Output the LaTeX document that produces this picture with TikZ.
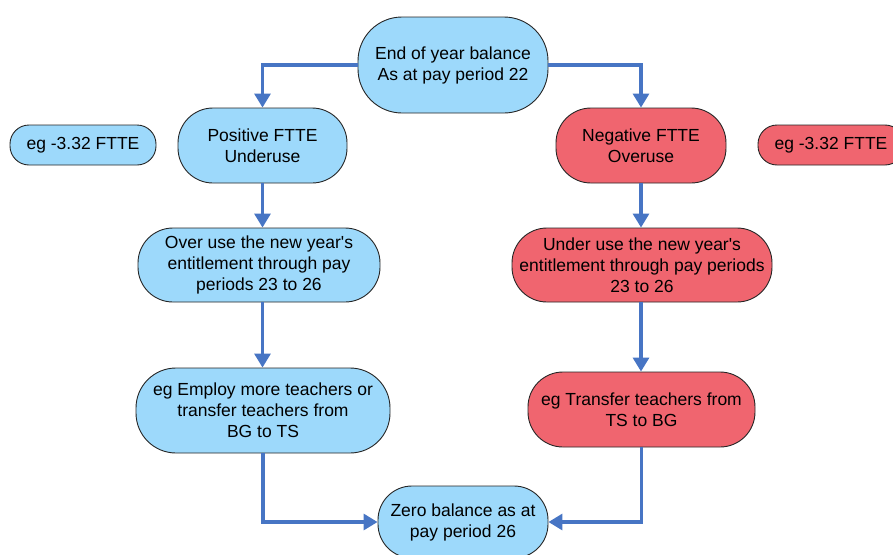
\documentclass[tikz,border=0pt]{standalone}
\usepackage{fontspec}
\setmainfont{Liberation Sans}
\usetikzlibrary{arrows.meta}
\definecolor{lb}{HTML}{9DD9FB}
\definecolor{rd}{HTML}{F0656F}
\definecolor{ln}{HTML}{4775C4}
\begin{document}
\begin{tikzpicture}[x=1pt,y=-1pt,
  box/.style={draw=black!85, line width=0.9pt, align=center,
    font=\fontsize{17.5}{21}\selectfont, inner sep=0pt},
  bluebox/.style={box, fill=lb},
  redbox/.style={box, fill=rd},
  conn/.style={draw=ln, line width=3.2pt, -{Triangle[width=16pt,length=14pt]}}]
\useasboundingbox (0,0) rectangle (893,554);
\clip (0,0) rectangle (893,554);

\node[bluebox, minimum width=190, minimum height=96, rounded corners=44] (top) at (453,65)
  {End of year balance\\As at pay period 22};
\node[bluebox, minimum width=169, minimum height=75, rounded corners=35] (pos) at (262.5,145.5)
  {Positive FTTE\\Underuse};
\node[bluebox, minimum width=146, minimum height=40, rounded corners=19] (egL) at (83,145)
  {eg -3.32 FTTE};
\node[redbox, minimum width=170, minimum height=75, rounded corners=35] (neg) at (641,145.5)
  {Negative FTTE\\Overuse};
\node[redbox, minimum width=146, minimum height=40, rounded corners=19] (egR) at (831,145)
  {eg -3.32 FTTE};
\node[bluebox, minimum width=242, minimum height=74, rounded corners=35] (over) at (259,265)
  {Over use the new year\textquotesingle s\\entitlement through pay\\periods 23 to 26};
\node[redbox, minimum width=260, minimum height=74, rounded corners=35] (under) at (642,265)
  {Under use the new year\textquotesingle s\\entitlement through pay periods\\23 to 26};
\node[bluebox, minimum width=254, minimum height=85, rounded corners=40] (emp) at (263,410.5)
  {eg Employ more teachers or\\transfer teachers from\\BG to TS};
\node[redbox, minimum width=227, minimum height=75, rounded corners=35] (trans) at (641.5,409.5)
  {eg Transfer teachers from\\TS to BG};
\node[bluebox, minimum width=170, minimum height=72, rounded corners=34] (zero) at (463,522)
  {Zero balance as at\\pay period 26};

\draw[conn] (top.west) -| (pos.north);
\draw[conn] (top.east) -| (neg.north);
\draw[conn] (pos.south) -- (pos.south |- over.north);
\draw[conn] (neg.south) -- (neg.south |- under.north);
\draw[conn] (pos.south |- over.south) -- (pos.south |- emp.north);
\draw[conn] (neg.south |- under.south) -- (neg.south |- trans.north);
\draw[conn] (emp.south) |- (zero.west);
\draw[conn] (trans.south) |- (zero.east);
\end{tikzpicture}
\end{document}
